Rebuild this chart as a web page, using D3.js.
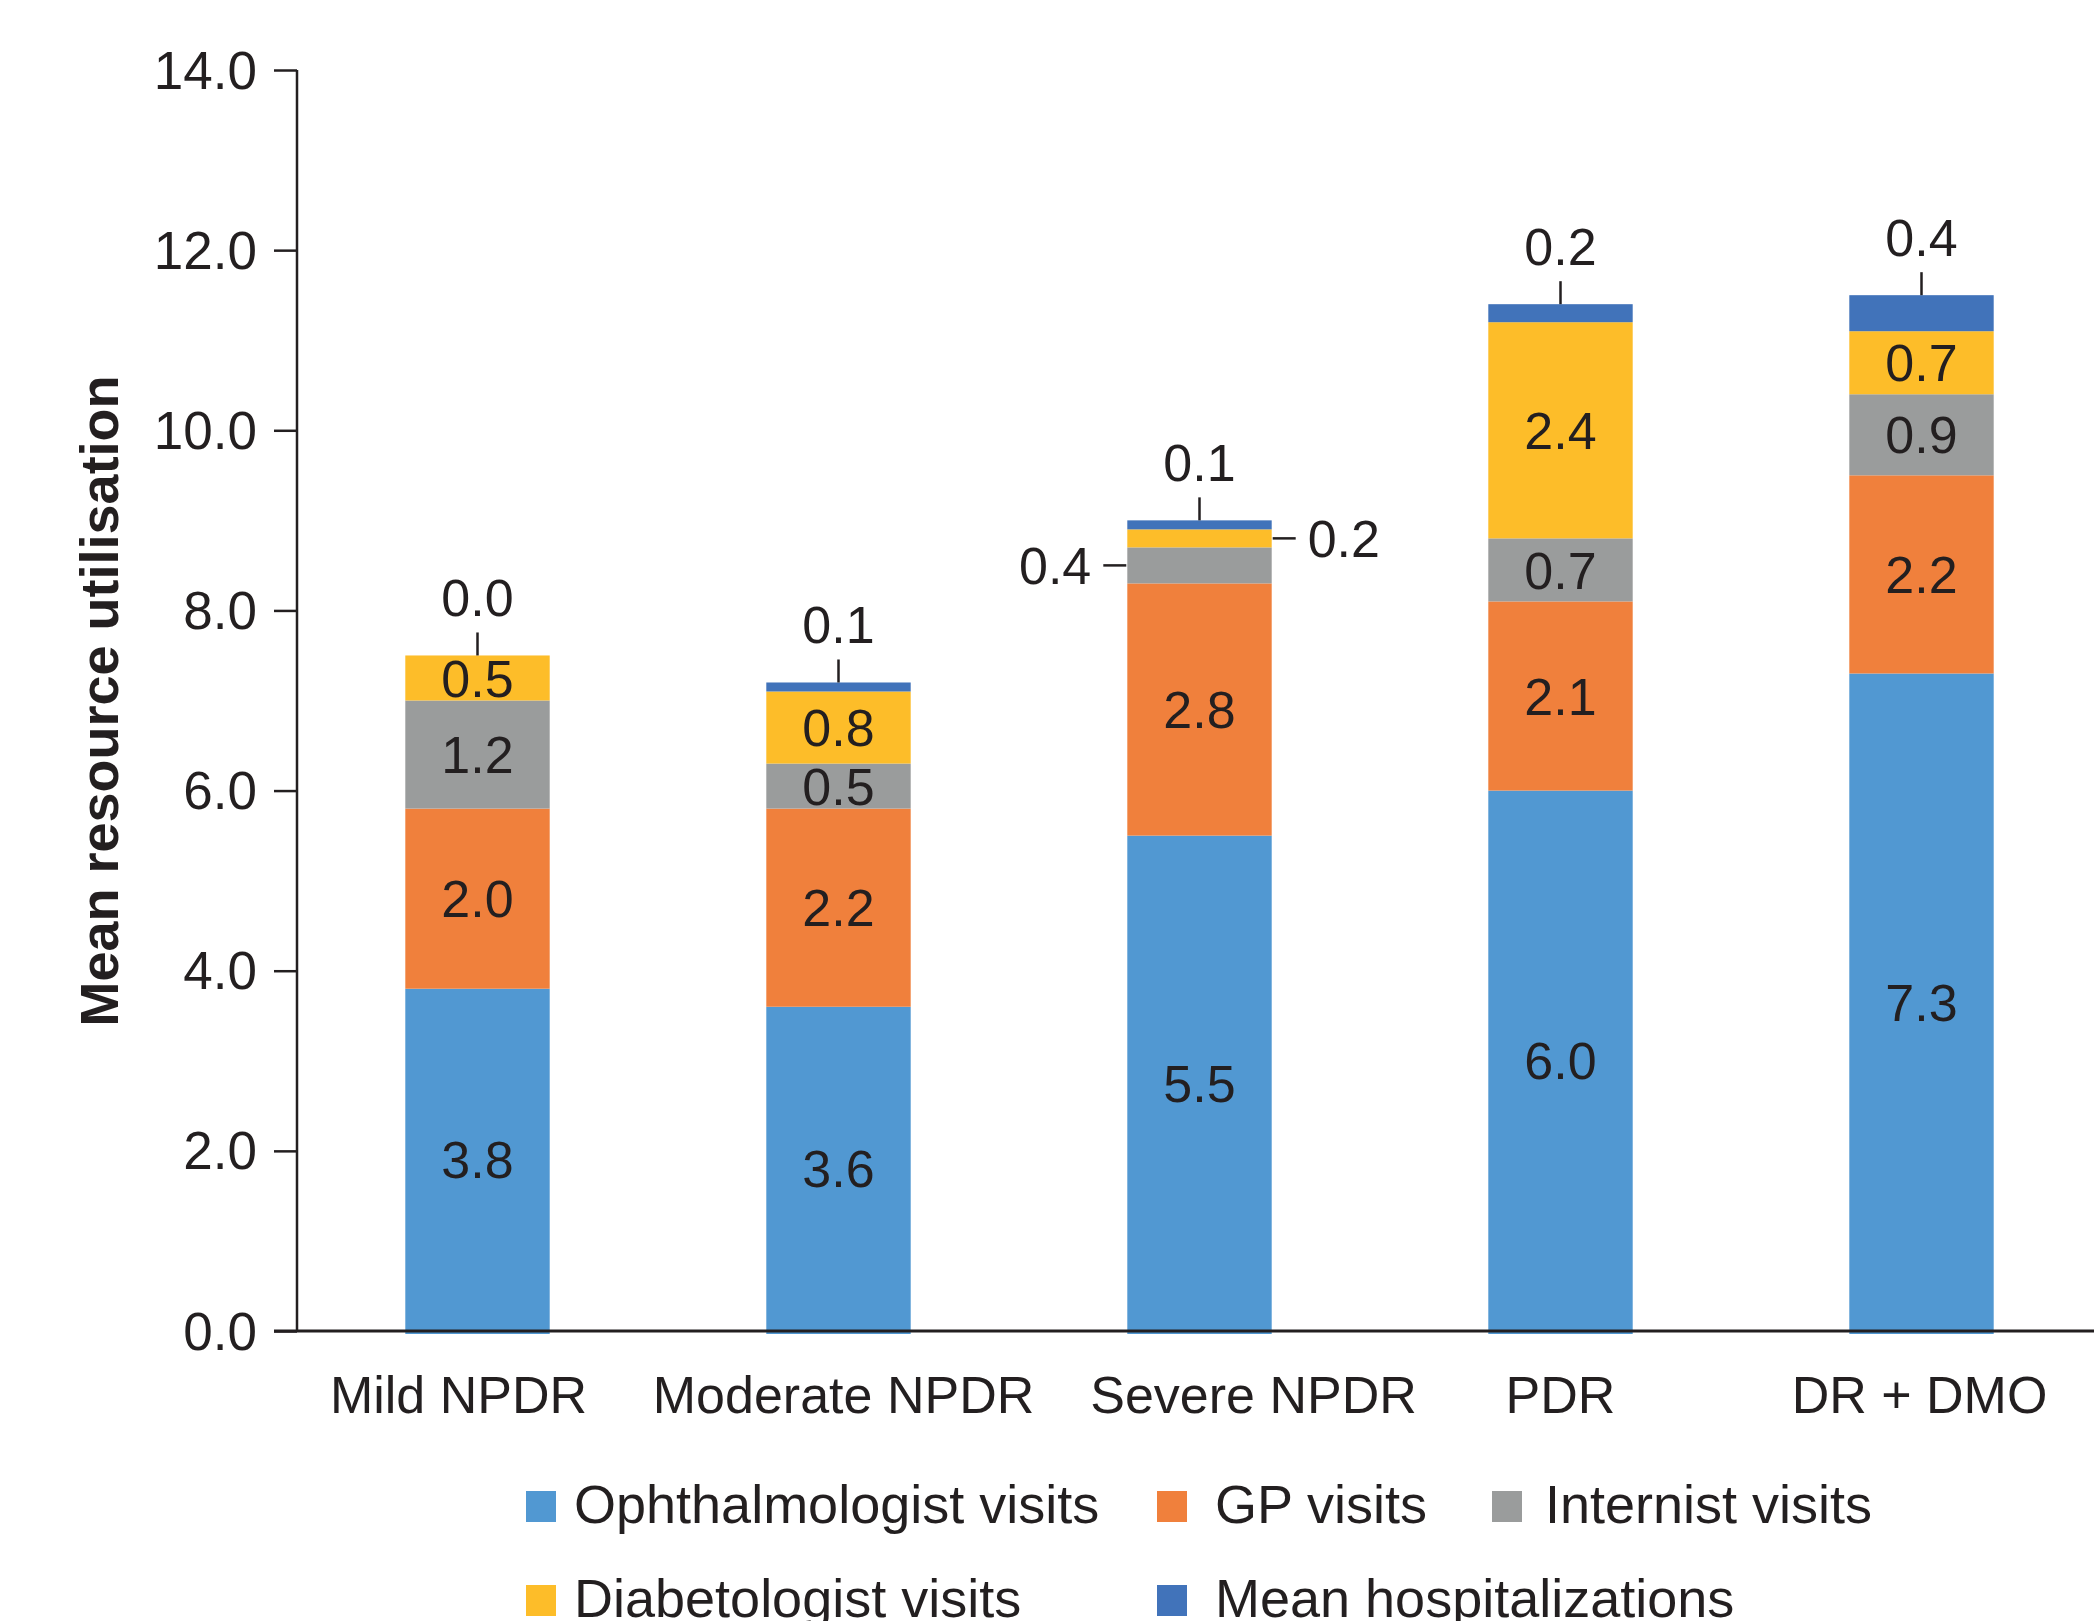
<!DOCTYPE html>
<html>
<head>
<meta charset="utf-8">
<script src="https://cdn.jsdelivr.net/npm/d3@7"></script>
<style>
  html, body { margin: 0; padding: 0; background: #ffffff; }
  svg { display: block; }
  text { font-family: "Liberation Sans", Arial, Helvetica, sans-serif; fill: #231f20; }
</style>
</head>
<body>
<svg id="chart" width="2094" height="1621"></svg>
<script>
// Diabetic retinopathy stage groups
const categories = ["Mild NPDR", "Moderate NPDR", "Severe NPDR", "PDR", "DR + DMO"];

// Mean resource use per patient, one array per stacked component (bottom to top)
const ophthalmologistVisits = [3.8, 3.6, 5.5, 6.0, 7.3];
const gpVisits              = [2.0, 2.2, 2.8, 2.1, 2.2];
const internistVisits       = [1.2, 0.5, 0.4, 0.7, 0.9];
const diabetologistVisits   = [0.5, 0.8, 0.2, 2.4, 0.7];
const meanHospitalizations  = [0.0, 0.1, 0.1, 0.2, 0.4];

const seriesNames = ["Ophthalmologist visits", "GP visits", "Internist visits",
                     "Diabetologist visits", "Mean hospitalizations"];
const seriesValues = [ophthalmologistVisits, gpVisits, internistVisits,
                      diabetologistVisits, meanHospitalizations];
const seriesColors = ["#5198d2", "#f0803c", "#9a9c9c", "#fdbd29", "#4173ba"];

const yTicks = [0, 2, 4, 6, 8, 10, 12, 14];

// ---- layout ----
const W = 2094, H = 1621;
const x0 = 297, x1 = 2102, yBase = 1331, yTop = 70;
const fs = 52;
const labelShift = [-19, 5, 54, 0, -2];   // horizontal nudge of the category names

const svg = d3.select("#chart");

const x = d3.scaleBand().domain(categories).range([x0, x1])
  .paddingInner(0.6).paddingOuter(0.3);
const y = d3.scaleLinear().domain([0, 14]).range([yBase, yTop]);

// stacked table built from the series arrays
const table = categories.map((c, i) => {
  const row = { category: c };
  seriesNames.forEach((s, k) => row[s] = seriesValues[k][i]);
  return row;
});
const stacked = d3.stack().keys(seriesNames)(table);

// bars
const layers = svg.append("g").selectAll("g").data(stacked).join("g")
  .attr("fill", (d, k) => seriesColors[k]);
layers.selectAll("rect").data(d => d).join("rect")
  .attr("x", d => x(d.data.category))
  .attr("width", x.bandwidth())
  .attr("y", d => y(d[1]))
  .attr("height", d => Math.max(0, y(d[0]) - y(d[1]) + (d[0] === 0 ? 3 : 0)));

// value labels
const lab = svg.append("g");
const last = seriesNames.length - 1;
stacked.forEach((layer, k) => {
  layer.forEach((d, i) => {
    const v = seriesValues[k][i];
    const cx = x(categories[i]) + x.bandwidth() / 2;
    const top = y(d[1]), bot = y(d[0]);
    const mid = (top + bot) / 2;
    const txt = d3.format(".1f")(v);
    if (k === last) {
      // topmost component: label above the bar with a short leader
      lab.append("line").attr("x1", cx).attr("x2", cx)
        .attr("y1", top).attr("y2", top - 23)
        .attr("stroke", "#231f20").attr("stroke-width", 2.5);
      lab.append("text").attr("x", cx).attr("y", top - 39)
        .attr("text-anchor", "middle").attr("font-size", fs).text(txt);
    } else if (bot - top >= 40) {
      lab.append("text").attr("x", cx).attr("y", mid + 0.358 * fs)
        .attr("text-anchor", "middle").attr("font-size", fs).text(txt);
    } else {
      // thin segment: label beside the bar with a horizontal leader
      const left = k % 2 === 0;
      const edge = left ? x(categories[i]) : x(categories[i]) + x.bandwidth();
      const dir = left ? -1 : 1;
      lab.append("line").attr("x1", edge + dir * 1).attr("x2", edge + dir * 24)
        .attr("y1", mid).attr("y2", mid)
        .attr("stroke", "#231f20").attr("stroke-width", 2.5);
      lab.append("text").attr("x", edge + dir * 36).attr("y", mid + 0.358 * fs)
        .attr("text-anchor", left ? "end" : "start").attr("font-size", fs).text(txt);
    }
  });
});

// y axis
const yAxis = svg.append("g").attr("transform", `translate(${x0},0)`)
  .call(d3.axisLeft(y).tickValues(yTicks).tickFormat(d3.format(".1f"))
    .tickSize(23).tickPadding(17));
yAxis.select(".domain").attr("stroke", "#231f20").attr("stroke-width", 2.5)
  .attr("d", `M0,${yTop}V${yBase}`);
yAxis.selectAll(".tick line").attr("stroke", "#231f20").attr("stroke-width", 2.5);
yAxis.selectAll(".tick text").attr("font-size", 53)
  .attr("font-family", "'Liberation Sans', Arial, sans-serif").attr("fill", "#231f20")
  .attr("dy", "0.34em");

// x axis
const xAxis = svg.append("g").attr("transform", `translate(0,${yBase})`)
  .call(d3.axisBottom(x).tickSize(0).tickPadding(82));
xAxis.select(".domain").attr("stroke", "#231f20").attr("stroke-width", 3)
  .attr("d", `M${x0 - 23},0H${W}`);
xAxis.selectAll(".tick text").attr("font-size", fs)
  .attr("font-family", "'Liberation Sans', Arial, sans-serif").attr("fill", "#231f20")
  .attr("dy", "0")
  .attr("dx", (d, i) => labelShift[i]);

// y axis title
svg.append("text")
  .attr("transform", "translate(118,701) rotate(-90)")
  .attr("text-anchor", "middle").attr("font-size", 54).attr("font-weight", "bold")
  .text("Mean resource utilisation");

// legend: swatch position and text offset per entry
const legendPos = [[526, 1491, 48], [1157, 1491, 58], [1492, 1491, 53],
                   [526, 1585, 48], [1157, 1585, 58]];
const lg = svg.append("g");
seriesNames.forEach((s, k) => {
  const [lx, ly, gap] = legendPos[k];
  lg.append("rect").attr("x", lx).attr("y", ly).attr("width", 30).attr("height", 31)
    .attr("fill", seriesColors[k]);
  lg.append("text").attr("x", lx + gap).attr("y", ly + 32)
    .attr("font-size", 54).text(s);
});
</script>
</body>
</html>
